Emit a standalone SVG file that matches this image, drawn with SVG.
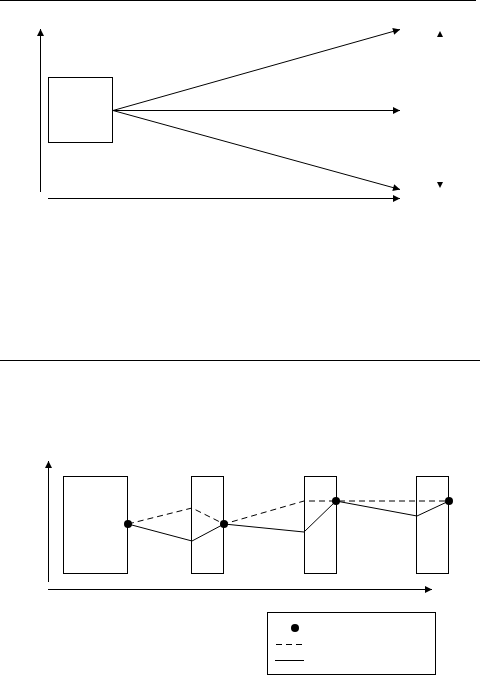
<svg xmlns="http://www.w3.org/2000/svg" width="480" height="676" viewBox="0 0 480 676">
<defs>
<marker id="ah" viewBox="0 0 10 10" refX="10" refY="5" markerWidth="8" markerHeight="7" markerUnits="userSpaceOnUse" orient="auto">
<path d="M0,0 L10,5 L0,10 Z" fill="#000"/>
</marker>
</defs>
<style>
.l{stroke:#000;stroke-width:1;fill:none}
.box{stroke:#000;stroke-width:1;fill:#fff}
.d{stroke-dasharray:6,4}
.dot{fill:#000}
</style>
<rect width="480" height="676" fill="#fff"/>
<line class="l" x1="0" y1="0.5" x2="476" y2="0.5"/>
<line class="l" x1="0" y1="360.5" x2="480" y2="360.5"/>
<g id="top-node"><rect class="box" x="48.5" y="77.5" width="64" height="65"/></g>
<g id="top-markers">
<path d="M437,37 L440,31 L443,37 Z" fill="#000"/>
<path d="M437,182 L440,188 L443,182 Z" fill="#000"/>
</g>
<g id="top-connectors">
<line class="l" x1="40.5" y1="192" x2="40.5" y2="29" marker-end="url(#ah)"/>
<line class="l" x1="48" y1="198.5" x2="400" y2="198.5" marker-end="url(#ah)"/>
<line class="l" x1="113" y1="110.5" x2="400" y2="29.5" marker-end="url(#ah)"/>
<line class="l" x1="113" y1="110.5" x2="400" y2="110.5" marker-end="url(#ah)"/>
<line class="l" x1="113" y1="110.5" x2="400" y2="189.5" marker-end="url(#ah)"/>
</g>
<g id="b1"><rect class="box" x="63.5" y="476.5" width="64" height="97"/></g>
<g id="b2"><rect class="box" x="191.5" y="476.5" width="32" height="97"/></g>
<g id="b3"><rect class="box" x="304.5" y="476.5" width="32" height="97"/></g>
<g id="b4"><rect class="box" x="416.5" y="476.5" width="32" height="97"/></g>
<g id="bottom-connectors">
<line class="l" x1="48.5" y1="582" x2="48.5" y2="461" marker-end="url(#ah)"/>
<line class="l" x1="48" y1="589.5" x2="432" y2="589.5" marker-end="url(#ah)"/>
<polyline class="l d" points="128,524 192,508 224,524 304,501 449,501"/>
<polyline class="l" points="128,524 192,541 224,524 304,532 336,501 417,516 449,501"/>
</g>
<g id="dots">
<circle class="dot" cx="128" cy="524" r="4"/>
<circle class="dot" cx="224" cy="524" r="4"/>
<circle class="dot" cx="336" cy="501" r="4"/>
<circle class="dot" cx="449" cy="501" r="4"/>
</g>
<g id="legend">
<rect class="box" x="267.5" y="612.5" width="168" height="62"/>
<circle class="dot" cx="295" cy="628" r="4"/>
<line class="l d" x1="276" y1="644.5" x2="305" y2="644.5"/>
<line class="l" x1="275" y1="660.5" x2="304" y2="660.5"/>
</g>
</svg>
